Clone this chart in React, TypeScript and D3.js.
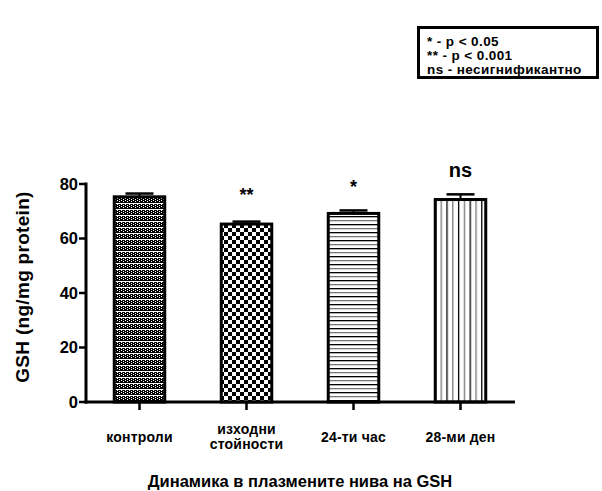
import React from "react";
import * as d3 from "d3";

const categories = ["контроли", "изходни\nстойности", "24-ти час", "28-ми ден"];
const means = [75.3, 65.3, 69.2, 74.3];
const errors = [1.2, 0.9, 1.1, 1.9];
const significance = ["", "**", "*", "ns"];
const yTicks = [0, 20, 40, 60, 80];
const legendLines = ["* - p < 0.05", "** - p < 0.001", "ns - несигнификантно"];
const patterns = ["pFine", "pChecker", "pHoriz", "pVert"];

const W = 602;
const H = 491;
const FONT = "'Liberation Sans', Arial, sans-serif";

export default function App() {
  const x = d3.scaleBand<string>().domain(categories).range([86, 514]).paddingInner(0.5).paddingOuter(0.25);
  const y = d3.scaleLinear().domain([0, 80]).range([402, 184]);
  const bw = x.bandwidth();
  const capW = 28;

  const sigY = (s: string, errTop: number) => (s === "ns" ? 177 : s === "**" ? errTop - 21 : errTop - 17);

  return (
    <svg width={W} height={H} style={{ position: "absolute", left: 0, top: 0, background: "#fff" }} fontFamily={FONT}>
      <defs>
        <pattern id="pFine" width={4} height={6} patternUnits="userSpaceOnUse">
          <rect width={4} height={6} fill="#000" />
          <rect x={1} y={0} width={1} height={1} fill="#fff" />
          <rect x={3} y={1} width={1} height={1} fill="#fff" />
          <rect x={1} y={2} width={1} height={1} fill="#fff" />
          <rect x={3} y={3} width={1} height={1} fill="#fff" />
          <rect x={0} y={5} width={4} height={1} fill="#fff" />
        </pattern>
        <pattern id="pChecker" width={8} height={8} patternUnits="userSpaceOnUse">
          <rect width={8} height={8} fill="#fff" />
          <rect x={0} y={0} width={4} height={4} fill="#000" />
          <rect x={4} y={4} width={4} height={4} fill="#000" />
        </pattern>
        <pattern id="pHoriz" width={8} height={8} patternUnits="userSpaceOnUse">
          <rect width={8} height={8} fill="#fff" />
          <rect x={0} y={0} width={8} height={1.3} fill="#000" />
          <rect x={0} y={4} width={8} height={1.3} fill="#777" />
        </pattern>
        <pattern id="pVert" width={11.6} height={8} patternUnits="userSpaceOnUse" x={x(categories[3])! + 1}>
          <rect width={11.6} height={8} fill="#fff" />
          <rect x={0} y={0} width={1.3} height={8} fill="#000" />
          <rect x={5.8} y={0} width={1.3} height={8} fill="#777" />
        </pattern>
      </defs>

      {/* legend box */}
      <rect x={418.5} y={27.5} width={179} height={50} fill="#fff" stroke="#000" strokeWidth={3} />
      {legendLines.map((t, i) => (
        <text key={i} x={427} y={46 + i * 14} fontSize={13.5} letterSpacing={0.4} fontWeight="bold" fill="#000">{t}</text>
      ))}

      {/* bars */}
      {categories.map((c, i) => {
        const x0 = x(c)!;
        const cx = x0 + bw / 2;
        const top = y(means[i]);
        const errTop = y(means[i] + errors[i]);
        return (
          <g key={c}>
            <line x1={cx} x2={cx} y1={top} y2={errTop} stroke="#000" strokeWidth={2} />
            <line x1={cx - capW / 2} x2={cx + capW / 2} y1={errTop} y2={errTop} stroke="#000" strokeWidth={2.5} />
            <rect x={x0 + 1.5} y={top} width={bw - 3} height={y(0) - top} fill={`url(#${patterns[i]})`} stroke="#000" strokeWidth={3} />
            {significance[i] && (
              <text x={cx} y={sigY(significance[i], errTop)} textAnchor="middle"
                fontSize={significance[i] === "ns" ? 20 : 18} fontWeight="bold" fill="#000">{significance[i]}</text>
            )}
          </g>
        );
      })}

      {/* axes */}
      <line x1={86} x2={86} y1={182.5} y2={403.5} stroke="#000" strokeWidth={3} />
      <line x1={84.5} x2={515} y1={402} y2={402} stroke="#000" strokeWidth={3} />
      {yTicks.map((t) => (
        <g key={t}>
          <line x1={79} x2={86} y1={y(t)} y2={y(t)} stroke="#000" strokeWidth={2.5} />
          <text x={78} y={y(t)} dy="0.36em" textAnchor="end" fontSize={16.5} fontWeight="bold" fill="#000">{t}</text>
        </g>
      ))}
      {categories.map((c) => {
        const cx = x(c)! + bw / 2;
        const lines = c.split("\n");
        return (
          <g key={c}>
            <line x1={cx} x2={cx} y1={402} y2={410} stroke="#000" strokeWidth={2.5} />
            {lines.map((l, j) => (
              <text key={j} x={cx} y={lines.length === 1 ? 442 : 434 + j * 15} textAnchor="middle" fontSize={14} letterSpacing={0.2} fontWeight="bold" fill="#000">{l}</text>
            ))}
          </g>
        );
      })}

      <text transform={`translate(29,287) rotate(-90)`} textAnchor="middle" fontSize={19} letterSpacing={0.3} fontWeight="bold" fill="#000">GSH (ng/mg protein)</text>
      <text x={300} y={487} textAnchor="middle" fontSize={16.5} fontWeight="bold" fill="#000">Динамика в плазмените нива на GSH</text>
    </svg>
  );
}
